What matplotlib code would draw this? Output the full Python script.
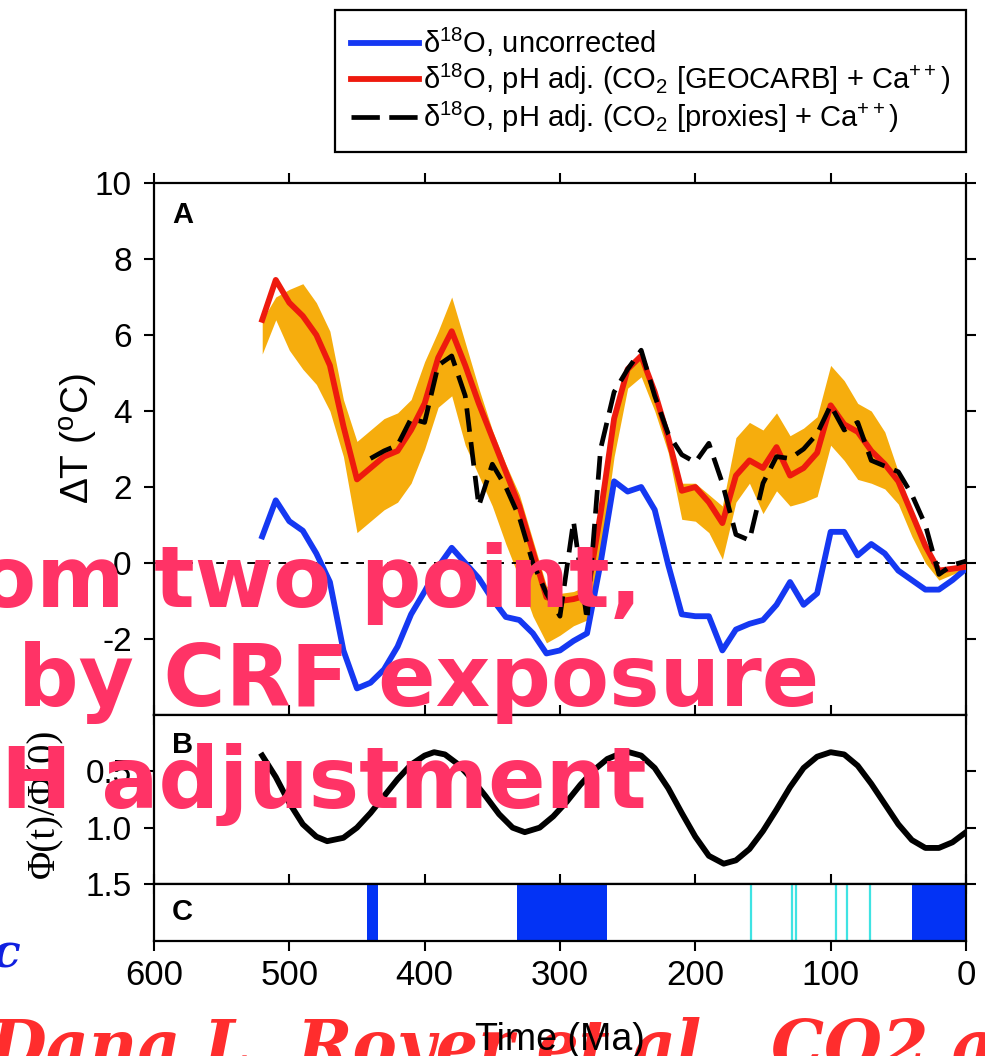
import matplotlib.pyplot as plt
from matplotlib.lines import Line2D

plt.rcParams['font.family'] = ['Liberation Sans', 'DejaVu Sans']
plt.rcParams['mathtext.fontset'] = 'custom'
plt.rcParams['mathtext.rm'] = 'Liberation Sans'
plt.rcParams['mathtext.it'] = 'Liberation Sans:italic'
plt.rcParams['axes.unicode_minus'] = False

# ---- panel A: temperature anomaly (Ma, deg C) ----
age = [520, 510, 500, 490, 480, 470, 460, 450, 440, 430, 420, 410, 400, 390,
       380, 370, 360, 350, 340, 330, 320, 310, 300, 290, 280, 270, 260, 250,
       240, 230, 220, 210, 200, 190, 180, 170, 160, 150, 140, 130, 120, 110,
       100, 90, 80, 70, 60, 50, 40, 30, 20, 10, 0]

uncorrected = [0.7, 1.65, 1.1, 0.85, 0.25, -0.5, -2.3, -3.3, -3.15, -2.8,
               -2.2, -1.35, -0.75, -0.1, 0.4, 0.0, -0.4, -0.95, -1.42, -1.5,
               -1.85, -2.38, -2.3, -2.05, -1.85, 0.0, 2.15, 1.88, 2.0, 1.4,
               -0.05, -1.35, -1.4, -1.4, -2.3, -1.75, -1.6, -1.5, -1.1, -0.5,
               -1.1, -0.8, 0.82, 0.82, 0.2, 0.5, 0.25, -0.2, -0.45, -0.7,
               -0.7, -0.45, -0.15]

geocarb = [6.4, 7.45, 6.85, 6.5, 6.0, 5.2, 3.6, 2.2, 2.5, 2.8, 2.95, 3.5,
           4.2, 5.4, 6.1, 5.2, 4.2, 3.3, 2.4, 1.5, 0.3, -0.9, -1.0, -0.95,
           -0.85, 1.3, 3.8, 5.1, 5.45, 4.5, 3.3, 1.9, 2.0, 1.6, 1.05, 2.3,
           2.7, 2.5, 3.05, 2.3, 2.5, 2.9, 4.15, 3.65, 3.45, 2.95, 2.6, 2.15,
           1.3, 0.45, -0.2, -0.15, -0.1]

band_hi = [6.4, 7.0, 7.2, 7.35, 6.85, 6.1, 4.3, 3.2, 3.5, 3.8, 3.95, 4.3,
           5.3, 6.1, 7.0, 5.8, 4.6, 3.5, 2.6, 1.8, 0.6, -0.6, -0.8, -0.75,
           -0.6, 1.5, 4.0, 5.2, 5.5, 4.6, 3.4, 2.1, 2.1, 1.8, 1.5, 3.3, 3.7,
           3.5, 3.95, 3.35, 3.55, 3.85, 5.2, 4.8, 4.2, 4.0, 3.45, 2.4, 1.35,
           0.5, -0.15, -0.1, -0.05]

band_lo = [5.5, 6.4, 5.6, 5.1, 4.7, 4.0, 2.8, 0.8, 1.1, 1.4, 1.6, 2.1, 3.0,
           4.1, 4.4, 3.1, 2.3, 1.5, 0.5, -0.4, -1.4, -2.1, -1.9, -1.65, -1.5,
           0.2, 2.8, 4.6, 4.9, 4.0, 2.9, 1.15, 1.1, 0.8, 0.1, 1.6, 2.1, 1.3,
           1.9, 1.5, 1.6, 1.75, 3.1, 2.7, 2.2, 2.1, 1.95, 1.55, 0.7, 0.0,
           -0.45, -0.3, -0.15]

proxy_age = [440, 430, 420, 410, 400, 390, 380, 370, 360, 350, 340, 330,
             320, 310, 300, 290, 280, 270, 260, 250, 240, 230, 220, 210, 200,
             190, 180, 170, 160, 150, 140, 130, 120, 110, 100, 90, 80, 70,
             60, 50, 40, 30, 20, 10, 0]
proxies = [2.75, 2.95, 3.1, 3.8, 3.7, 5.2, 5.45, 4.4, 1.5, 2.6, 2.0, 1.2,
           0.0, -0.8, -1.4, 1.1, -1.5, 3.0, 4.5, 5.1, 5.6, 4.4, 3.4, 2.85,
           2.65, 3.15, 2.1, 0.75, 0.6, 2.1, 2.8, 2.75, 3.0, 3.4, 4.15, 3.5,
           3.7, 2.7, 2.55, 2.4, 1.8, 1.0, -0.3, -0.05, 0.05]

# ---- panel B: cosmic ray flux relative to present ----
phi_age = [520, 510, 500, 490, 480, 472, 460, 450, 440, 430, 420, 410, 400,
           393, 385, 375, 365, 355, 345, 335, 326, 315, 305, 295, 285, 275,
           265, 255, 249, 240, 230, 220, 210, 200, 190, 179, 170, 160, 150,
           140, 130, 120, 110, 100, 90, 80, 70, 60, 50, 40, 30, 20, 10, 0]
phi = [0.36, 0.55, 0.78, 0.97, 1.08, 1.12, 1.09, 1.0, 0.87, 0.72, 0.57,
       0.44, 0.36, 0.33, 0.35, 0.44, 0.57, 0.72, 0.88, 1.0, 1.04, 1.0, 0.9,
       0.77, 0.62, 0.49, 0.39, 0.34, 0.33, 0.36, 0.47, 0.65, 0.87, 1.08,
       1.25, 1.32, 1.29, 1.19, 1.03, 0.84, 0.64, 0.47, 0.37, 0.33, 0.35,
       0.45, 0.61, 0.79, 0.97, 1.11, 1.18, 1.18, 1.13, 1.04]

# ---- panel C: glacial intervals (start, end) and cold snaps ----
glacial = [(442.5, 434.8), (331.6, 265.5), (40.0, 0.0)]
cold_events = [159.0, 128.6, 125.7, 95.9, 88.2, 70.6]

BLUE = '#1538f2'
RED = '#ee1a0e'
ORANGE = '#f6ad0d'

fig = plt.figure(figsize=(9.85, 10.56), dpi=100)
axA = fig.add_axes([0.1563, 0.3229, 0.8244, 0.5038])
axB = fig.add_axes([0.1563, 0.1629, 0.8244, 0.1600])
axC = fig.add_axes([0.1563, 0.1089, 0.8244, 0.0540])

axA.fill_between(age, band_lo, band_hi, color=ORANGE, lw=0, zorder=1)
axA.axhline(0, color='k', lw=1.4, ls=(0, (4, 4)), zorder=2)
axA.plot(age, uncorrected, color=BLUE, lw=4.2, zorder=3)
axA.plot(age, geocarb, color=RED, lw=4.2, zorder=4)
axA.plot(proxy_age, proxies, color='k', lw=3.4, dashes=(5, 2.2), zorder=5)
axA.set_ylim(-4, 10)
axA.set_yticks([10, 8, 6, 4, 2, 0, -2])
axA.set_ylabel(r'ΔT ($^{\rm o}$C)', fontsize=28)
axA.yaxis.set_label_coords(-0.066, 0.52)

axB.plot(phi_age, phi, color='k', lw=4.2)
axB.set_ylim(1.5, 0)
axB.set_yticks([0.5, 1.0, 1.5])
axB.set_yticklabels(['0.5', '1.0', '1.5'])
axB.set_ylabel('Φ(t)/Φ(0)', fontsize=28, family=['Liberation Serif'])
axB.yaxis.set_label_coords(-0.112, 0.48)

for start, end in glacial:
    axC.axvspan(start, end, color='#0333f5', lw=0)
for t in cold_events:
    axC.axvline(t, color='#3fe3e3', lw=1.6)
axC.set_ylim(0, 1)
axC.set_yticks([])
axC.set_xlabel('Time (Ma)', fontsize=27)
axC.xaxis.set_label_coords(0.5, -1.42)

for ax in (axA, axB, axC):
    ax.set_xlim(600, 0)
    ax.set_xticks([600, 500, 400, 300, 200, 100, 0])
    for s in ax.spines.values():
        s.set_linewidth(1.6)
    ax.tick_params(axis='both', direction='out', length=7, width=1.5,
                   top=True, bottom=True, right=True, labelsize=24)
    ax.tick_params(axis='y', pad=9)
axA.tick_params(labelbottom=False)
axB.tick_params(labelbottom=False)
axC.tick_params(axis='x', labelsize=25, pad=6)

for ax, letter, ypos in ((axA, 'A', 0.94), (axB, 'B', 0.82), (axC, 'C', 0.5)):
    ax.text(0.022, ypos, letter, transform=ax.transAxes, fontsize=21,
            fontweight='bold', va='center', ha='left')

handles = [Line2D([], [], color=BLUE, lw=4.2),
           Line2D([], [], color=RED, lw=4.2),
           Line2D([], [], color='k', lw=3.4, dashes=(6, 2))]
labels = [r'δ$^{18}$O, uncorrected',
          r'δ$^{18}$O, pH adj. (CO$_2$ [GEOCARB] + Ca$^{++}$)',
          r'δ$^{18}$O, pH adj. (CO$_2$ [proxies] + Ca$^{++}$)']
leg = fig.legend(handles, labels, loc='upper right',
                 bbox_to_anchor=(966 / 985, 1 - 10 / 1056), fontsize=21,
                 frameon=True, fancybox=False, framealpha=1, edgecolor='k',
                 handlelength=2.3, handletextpad=0.15, labelspacing=0.1,
                 borderpad=0.55, borderaxespad=0)
leg.get_frame().set_linewidth(1.6)

# caption overlay
pink = dict(color='#ff3366', fontsize=61, fontweight='bold',
            family=['DejaVu Sans'], ha='right', va='baseline', zorder=20)
fig.text(0.652, 1 - 607 / 1056, 'om two point,', **pink)
fig.text(0.832, 1 - 706 / 1056, 'by CRF exposure', **pink)
fig.text(0.656, 1 - 808 / 1056, 'H adjustment', **pink)

fig.text(-0.012, 1 - 1068 / 1056, 'Dana L. Royer et al., CO2 as',
         color='#ff2d2d', fontsize=48, fontweight='bold', style='italic',
         family=['DejaVu Serif'], ha='left', va='baseline', zorder=-1)
fig.text(0.02, 1 - 968 / 1056, 'c', color='#1020e0', fontsize=34,
         fontweight='bold', style='italic', family=['DejaVu Serif'],
         ha='right', va='baseline', zorder=20)

fig.savefig('out.png', dpi=100)
